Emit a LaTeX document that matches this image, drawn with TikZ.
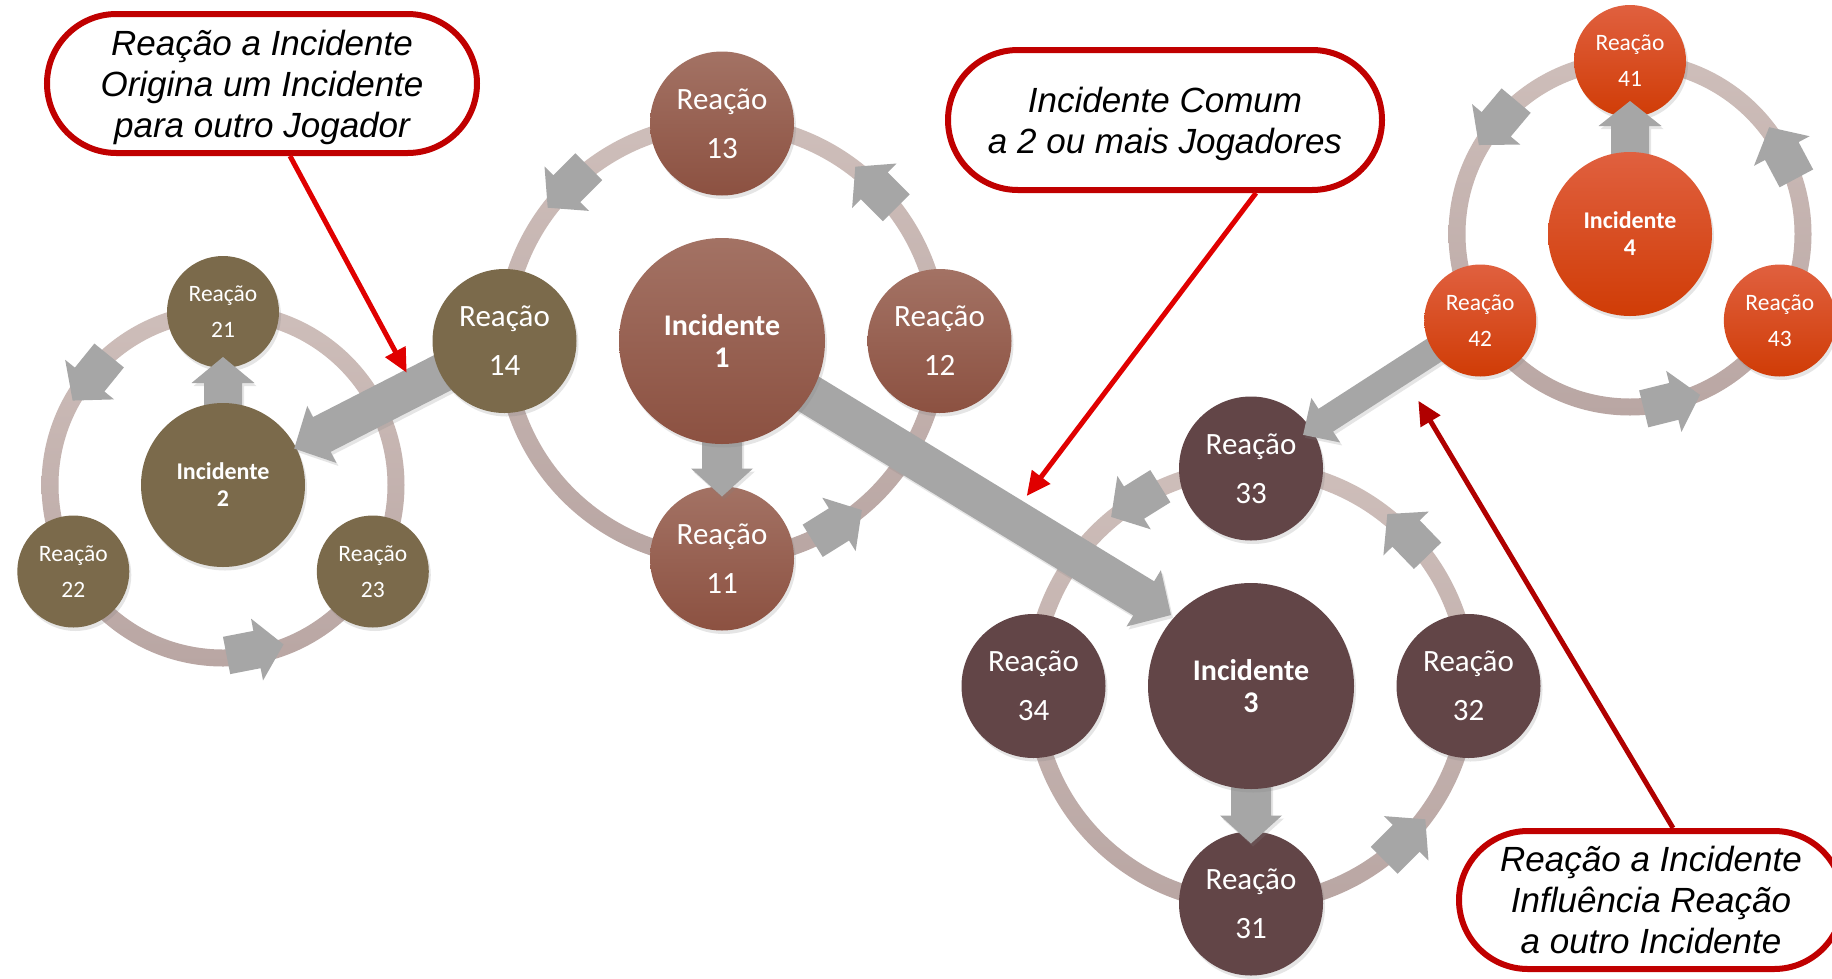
\documentclass[tikz,border=0pt]{standalone}
\usepackage{fontspec}
\setmainfont{Carlito}
\newfontfamily\arialfont{Liberation Sans}
\usetikzlibrary{calc,shadows,arrows.meta,shapes.misc}
\pgfdeclarelayer{l0}\pgfdeclarelayer{l1}\pgfdeclarelayer{l2}
\pgfdeclarelayer{l3}\pgfdeclarelayer{l4}\pgfdeclarelayer{l5}
\pgfsetlayers{l0,l1,l2,l3,l4,l5,main}
\definecolor{cat}{HTML}{A37264}
\definecolor{cab}{HTML}{8C5141}
\definecolor{olive}{HTML}{7B6A4B}
\definecolor{plum}{HTML}{624547}
\definecolor{ort}{HTML}{E0603F}
\definecolor{orb}{HTML}{D03C06}
\definecolor{ringt}{HTML}{CEBEBA}
\definecolor{ringb}{HTML}{B9A6A3}
\definecolor{agray}{HTML}{A6A6A6}
\definecolor{cred}{HTML}{C00000}
\definecolor{pred}{HTML}{E00000}
\definecolor{pdred}{HTML}{B00000}
% ring of a cycle: centre x, centre y, radius
\newcommand\ring[3]{\shade[top color=ringt, bottom color=ringb, even odd rule]
  (#1,#2) circle[radius=#3pt+8.5pt] (#1,#2) circle[radius=#3pt-8.5pt];}
% block arrow on a ring: centre x, centre y, radius, angle
\newcommand\ringarrow[4]{%
  \begin{scope}[shift={(#1,#2)}, rotate=#4]
    \begin{scope}[shift={(#3,0)}, rotate=90]
      \fill[agray] (-29,-19) -- (2,-19) -- (2,-31.5) -- (29,0) -- (2,31.5) -- (2,19) -- (-29,19) -- cycle;
    \end{scope}
  \end{scope}}
% block arrow from tail #1 to tip #2: shaft half width #3, head half width #4, head length #5
\newcommand\blockarrow[5]{%
  \coordinate (hb) at ($(#2)!#5pt!(#1)$);
  \fill[agray, drop shadow={opacity=0.2, shadow xshift=2pt, shadow yshift=-3pt}]
    ($(#1)!#3pt!90:(#2)$) -- ($(hb)!#3pt!-90:(#1)$) -- ($(hb)!#4pt!-90:(#1)$) -- (#2)
    -- ($(hb)!#4pt!90:(#1)$) -- ($(hb)!#3pt!90:(#1)$) -- ($(#1)!#3pt!-90:(#2)$) -- cycle;}
\begin{document}
\begin{tikzpicture}[x=1pt,y=-1pt,
  cn/.style={circle, inner sep=0pt, text=white, align=center,
    drop shadow={opacity=0.2, shadow xshift=2pt, shadow yshift=-3.5pt}},
  bigR/.style={cn, minimum size=144pt, font=\fontsize{31}{49}\selectfont},
  bigI/.style={cn, minimum size=206pt, font=\bfseries\fontsize{30}{32}\selectfont},
  smR/.style={cn, minimum size=112pt, font=\fontsize{23.5}{36}\selectfont},
  smI/.style={cn, minimum size=164pt, font=\bfseries\fontsize{24}{27}\selectfont},
  g1/.style={top color=cat, bottom color=cab},
  g2/.style={fill=olive},
  g3/.style={fill=plum},
  g4/.style={top color=ort, bottom color=orb},
  callout/.style={rounded rectangle, draw=cred, line width=6pt, fill=white,
    align=center, inner sep=0pt, text=black, text depth=0pt,
    font=\arialfont\itshape\fontsize{35}{41}\selectfont},
  ptr/.style={line width=5pt, draw=pred, -{Triangle[width=22pt,length=24pt]}}
]
\useasboundingbox (0,0) rectangle (1832,978);
\begin{pgfonlayer}{l0}
  \fill[white] (0,0) rectangle (1832,978);
\end{pgfonlayer}
% rings and ring arrows
\begin{pgfonlayer}{l1}
  \ring{722}{341}{217.5}
  \ring{223}{485}{173}
  \ring{1251}{686}{217.5}
  \ring{1630}{234}{173}
  \ringarrow{722}{341}{217.5}{135}
  \ringarrow{722}{341}{217.5}{45}
  \ringarrow{722}{341}{217.5}{-58}
  \ringarrow{223}{485}{170}{141}
  \ringarrow{223}{485}{168}{-79}
  \ringarrow{1251}{686}{217.5}{122}
  \ringarrow{1251}{686}{217.5}{44}
  \ringarrow{1251}{686}{217.5}{-45}
  \ringarrow{1630}{234}{173}{140}
  \ringarrow{1630}{234}{173}{28}
  \ringarrow{1630}{234}{173}{-76}
\end{pgfonlayer}
% reaction nodes
\begin{pgfonlayer}{l2}
  \node[bigR,g1] (r13) at (722,123.5) {Reação\\13};
  \node[bigR,g1] (r12) at (939.5,341) {Reação\\12};
  \node[bigR,g1] (r11) at (722,558.5) {Reação\\11};
  \node[smR,g2] (r21) at (223,312) {Reação\\21};
  \node[smR,g2] (r22) at (73.3,571.5) {Reação\\22};
  \node[smR,g2] (r23) at (372.8,571.5) {Reação\\23};
  \node[bigR,g3] (r33) at (1251,468.5) {Reação\\33};
  \node[bigR,g3] (r34) at (1033.5,686) {Reação\\34};
  \node[bigR,g3] (r32) at (1468.5,686) {Reação\\32};
  \node[bigR,g3] (r31) at (1251,903.5) {Reação\\31};
  \node[smR,g4] (r41) at (1630,61) {Reação\\41};
  \node[smR,g4] (r43) at (1779.8,320.5) {Reação\\43};
\end{pgfonlayer}
% incident nodes
\begin{pgfonlayer}{l4}
  \node[smI,g2] (i2) at (223,485) {Incidente\\2};
  \node[bigI,g3] (i3) at (1251,686) {Incidente\\3};
  \node[smI,g4] (i4) at (1630,234) {Incidente\\4};
\end{pgfonlayer}
\node[bigI,g1] (i1) at (722,341) {Incidente\\1};
\node[bigR,g2] (r14) at (504.5,341) {Reação\\14};
\node[smR,g4] (r42) at (1480.2,320.5) {Reação\\42};
% incident -> first reaction
\begin{pgfonlayer}{l3}
  \coordinate (t11) at ($(r11.center)+(0,-62)$);
  \blockarrow{i1.center}{t11}{20}{31}{28}
  \coordinate (t31) at ($(r31.center)+(0,-60)$);
  \blockarrow{i3.center}{t31}{20}{31}{28}
  \coordinate (t21) at ($(r21.center)+(0,45)$);
  \blockarrow{i2.center}{t21}{19}{31.5}{26}
  \coordinate (t41) at ($(r41.center)+(0,40)$);
  \blockarrow{i4.center}{t41}{19}{31.5}{25}
\end{pgfonlayer}
% links between cycles
\begin{pgfonlayer}{l5}
  \coordinate (ti2) at ($(i2.center)!80pt!(r14.center)$);
  \blockarrow{r14.center}{ti2}{19.5}{32}{31}
  \coordinate (ti3) at ($(i3.center)+(-80,-71)$);
  \blockarrow{i1.center}{ti3}{20}{33}{32}
  \coordinate (t33) at ($(r33.center)!62pt!(r42.center)$);
  \blockarrow{r42.center}{t33}{13.5}{26.5}{27}
\end{pgfonlayer}
% callouts
\node[callout, minimum width=430pt, minimum height=139pt] (c1) at (262,83.5)
  {Reação a Incidente\\Origina um Incidente\\para outro Jogador};
\node[callout, minimum width=434pt, minimum height=140pt] (c2) at (1165,120)
  {Incidente Comum\\a 2 ou mais Jogadores};
\node[callout, minimum width=384pt, minimum height=138pt] (c3) at (1651,900)
  {Reação a Incidente\\Influência Reação\\a outro Incidente};
\coordinate (q1) at (406.7,372.7);
\coordinate (q2) at (1026.7,496);
\coordinate (q3) at (1418.3,400.7);
\draw[ptr] ($(c1.south)+(28,0)$) -- (q1);
\draw[ptr] ($(c2.south)+(91,0)$) -- (q2);
\draw[ptr, draw=pdred] ($(c3.north)+(22,0)$) -- (q3);
\end{tikzpicture}
\end{document}
